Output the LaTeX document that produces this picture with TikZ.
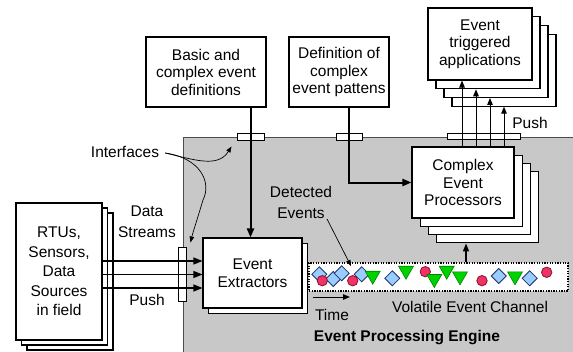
\documentclass[tikz,border=0pt]{standalone}
\usepackage{fontspec}
\setmainfont{Liberation Sans}
\usetikzlibrary{arrows.meta,calc}
\definecolor{engine}{RGB}{200,200,200}
\definecolor{dfill}{RGB}{153,204,255}
\definecolor{ddraw}{RGB}{30,50,100}
\definecolor{cfill}{RGB}{240,50,100}
\definecolor{cdraw}{RGB}{130,20,50}
\definecolor{tfill}{RGB}{0,210,0}
\definecolor{tdraw}{RGB}{0,130,0}
\begin{document}
\begin{tikzpicture}[x=1pt,y=-1pt,
  box/.style={draw=black,line width=1.1pt,fill=white,align=center,inner sep=0pt,font=\fontsize{15.5}{17.5}\selectfont},
  lbl/.style={align=center,inner sep=0pt,font=\fontsize{15.5}{21}\selectfont},
  ifc/.style={draw=black,line width=1pt,fill=white,inner sep=0pt},
  bigarr/.style={-{Triangle[length=9pt,width=7pt]},line width=1.2pt},
  thickarr/.style={-{Triangle[length=9pt,width=7pt]},line width=2pt},
  midarr/.style={-{Triangle[length=7pt,width=5.5pt]},line width=1pt},
  thinarr/.style={-{Triangle[length=6pt,width=4.5pt]},line width=0.7pt},
  dia/.style={fill=dfill,draw=ddraw,line width=0.8pt},
  circ/.style={fill=cfill,draw=cdraw,line width=0.8pt},
  tri/.style={fill=tfill,draw=tdraw,line width=0.6pt}
]
\path[use as bounding box] (0,0) rectangle (573,351);
% engine background
\begin{scope}
\clip (0,0) rectangle (573,351);
\fill[engine] (183,137) rectangle (600,400);
\draw[line width=1pt,black!70] (600,137) -- (183,137) -- (183,400);
\end{scope}

% top boxes
\node[box,minimum width=120pt,minimum height=70pt] (basic) at (206,72) {Basic and\\complex event\\definitions};
\node[box,minimum width=100pt,minimum height=70pt] (defn) at (339,72) {Definition of\\complex\\event pattens};

% applications stack
\foreach \k in {3,2,1}
  \node[box,minimum width=104pt,minimum height=72pt] (app\k) at ($(480,44)+(\k*8,\k*8.7)$) {};
\node[box,minimum width=104pt,minimum height=72pt] (app0) at (480,44) {Event\\triggered\\applications};

% complex event processors stack
\foreach \k in {3,2,1}
  \node[box,minimum width=102pt,minimum height=71pt] (cep\k) at ($(463,182.5)+(\k*8.3,\k*8.3)$) {};
\node[box,minimum width=102pt,minimum height=71pt] (cep) at (463,182.5) {Complex\\Event\\Processors};

% event extractors
\node[box,minimum width=99pt,minimum height=70pt] (ee1) at ($(252.5,273)+(5.5,5.5)$) {};
\node[box,minimum width=99pt,minimum height=70pt] (ee) at (252.5,273) {Event\\Extractors};

% RTU stack
\foreach \k in {2,1}
  \node[box,minimum width=86pt,minimum height=137pt] (rtu\k) at ($(59,271.5)+(\k*5.5,\k*5)$) {};
\node[box,minimum width=86pt,minimum height=137pt,font=\fontsize{15.5}{19.5}\selectfont] (rtu) at (59,271.5) {RTUs,\\Sensors,\\Data\\Sources\\in field};

% volatile event channel
\node[draw=black,fill=white,line width=1.6pt,dash pattern=on 1.3pt off 1.3pt,minimum width=259pt,minimum height=28pt,inner sep=0pt] (chan) at (438.5,277) {};

% interfaces
\node[ifc,minimum width=27pt,minimum height=7pt] (ifc1) at (250.5,136.5) {};
\node[ifc,minimum width=26pt,minimum height=7pt] (ifc2) at (349,136.5) {};
\node[ifc,minimum width=73pt,minimum height=6.5pt] (ifc3) at (483.5,136.5) {};
\node[ifc,minimum width=8pt,minimum height=54pt] (ifc4) at (182,274) {};

% labels
\node[lbl] (ifl) at (125,152) {Interfaces};
\node[lbl] (ds) at (147,222) {Data\\Streams};
\node[lbl] (push1) at (147,300) {Push};
\node[lbl] (push2) at (530,123) {Push};
\node[lbl] (det) at (301,202.5) {Detected\\Events};
\node[lbl] (time) at (332,315) {Time};
\node[lbl] (vec) at (470,307) {Volatile Event Channel};
\node[lbl,font=\bfseries\fontsize{15.5}{18}\selectfont] (epe) at (407,338) {Event Processing Engine};

% helper coordinates
\coordinate (a1) at (462,0);
\coordinate (a2) at (476,0);
\coordinate (a3) at (490,0);
\coordinate (a4) at (504,0);
\coordinate (up) at (466,0);
\coordinate (r1) at (0,261);
\coordinate (r2) at (0,274.5);
\coordinate (r3) at (0,288);
\coordinate (dstart) at (327,219);
\coordinate (dtip) at (351,266);
\coordinate (tstart) at (313,297);
\coordinate (tend) at (350,297);

% connectors
\draw[thickarr] (basic.south -| ifc1) -- (ee.north -| ifc1);
\draw[thickarr] (defn.south -| ifc2) |- (cep.west);
\draw[midarr] (cep.north -| a1) -- (app0.south -| a1);
\draw[midarr] (cep.north -| a2) -- (app1.south -| a2);
\draw[midarr] (cep.north -| a3) -- (app2.south -| a3);
\draw[midarr] (cep.north -| a4) -- (app3.south -| a4);
\draw[{Triangle[length=8pt,width=6pt]}-,line width=1.5pt] (cep3.south -| up) -- (chan.north -| up);
\draw[bigarr] (rtu.east |- r1) -- (ee.west |- r1);
\draw[bigarr] (rtu.east |- r2) -- (ee.west |- r2);
\draw[bigarr] (rtu.east |- r3) -- (ee.west |- r3);
\draw[thinarr] (dstart) -- (dtip);
\draw[midarr] (tstart) -- (tend);
\draw[thinarr] ($(ifl.east)+(6,1)$) .. controls (195,160) and (218,168) .. ($(ifc1.south west)+(-5,6)$);
\draw[thinarr] ($(ifl.east)+(6,1)$) .. controls (200,158) and (212,182) .. (203,200) .. controls (197,220) and (193,232) .. ($(ifc4.north east)+(4,-4)$);

% events in channel
\foreach \x/\y in {319.3/274.3, 333.3/279, 341.7/273.3, 361.7/274.3, 392.3/278.3, 498.7/276, 529.7/278.3}
  \draw[dia] (\x-7.5,\y) -- (\x,\y-7.5) -- (\x+7.5,\y) -- (\x,\y+7.5) -- cycle;
\foreach \x/\y in {322.3/280.7, 352.7/280.7, 425.3/271.7, 482/280.7, 546.7/272.3}
  \draw[circ] (\x,\y) circle[radius=5.2];
\foreach \x/\y in {372.7/277.7, 406/272.7, 434.3/281, 446.7/272.7, 460/278.3, 515/278.3}
  \draw[tri] (\x-7.5,\y-6.5) -- (\x+7.5,\y-6.5) -- (\x,\y+6.5) -- cycle;
\end{tikzpicture}
\end{document}
